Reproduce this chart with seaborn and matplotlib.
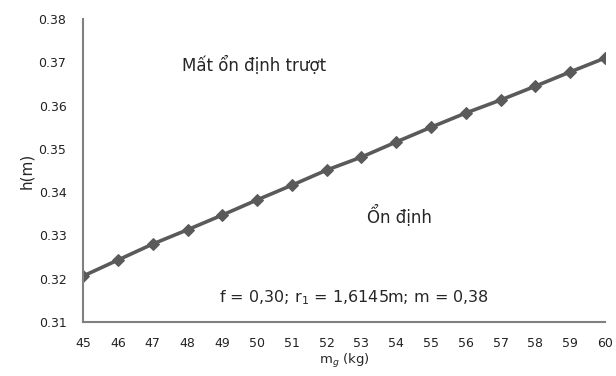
import numpy as np
import pandas as pd
import matplotlib
matplotlib.use("Agg")
import matplotlib.pyplot as plt
import seaborn as sns

# data
m_g = [45, 46, 47, 48, 49, 50, 51, 52, 53, 54, 55, 56, 57, 58, 59, 60]
h = [0.3206, 0.3243, 0.3280, 0.3313, 0.3347, 0.3382, 0.3416, 0.3451,
     0.3481, 0.3516, 0.3550, 0.3583, 0.3613, 0.3645, 0.3678, 0.3710]
y_ticks = [0.31, 0.32, 0.33, 0.34, 0.35, 0.36, 0.37, 0.38]

df = pd.DataFrame({"m_g": m_g, "h": h})

sns.set_style("white")
plt.rcParams['font.family'] = ['DejaVu Sans']

fig = plt.figure(figsize=(6.16, 3.76), dpi=100)
ax = fig.add_axes([0.135, 0.144, 0.847, 0.805])

sns.lineplot(data=df, x="m_g", y="h", ax=ax, color="#5a5a5a", linewidth=2.6,
             marker="D", markersize=6.5, markeredgecolor="#5a5a5a")

ax.set_xlim(45, 60)
ax.set_ylim(0.31, 0.38)
ax.set_xticks(m_g)
ax.set_yticks(y_ticks)
ax.set_yticklabels([f"{v:.2f}" for v in y_ticks])
ax.tick_params(axis="both", labelsize=9, length=0, colors="#222222")
ax.tick_params(axis="y", pad=12)
ax.tick_params(axis="x", pad=11)

for s in ["top", "right"]:
    ax.spines[s].set_visible(False)
for s in ["left", "bottom"]:
    ax.spines[s].set_color("#808080")
    ax.spines[s].set_linewidth(1.5)

ax.set_xlabel("m$_g$ (kg)", fontsize=9.5, labelpad=1)
ax.set_ylabel("h(m)", fontsize=11, labelpad=3)

ax.text(49.9, 0.3694, "Mất ổn định trượt", fontsize=12, ha="center", va="center")
ax.text(54.1, 0.3345, "Ổn định", fontsize=12, ha="center", va="center")
ax.text(52.8, 0.3155, "f = 0,30; r$_1$ = 1,6145m; m = 0,38", fontsize=11.5,
        ha="center", va="center")

fig.savefig("out.png", dpi=100)
